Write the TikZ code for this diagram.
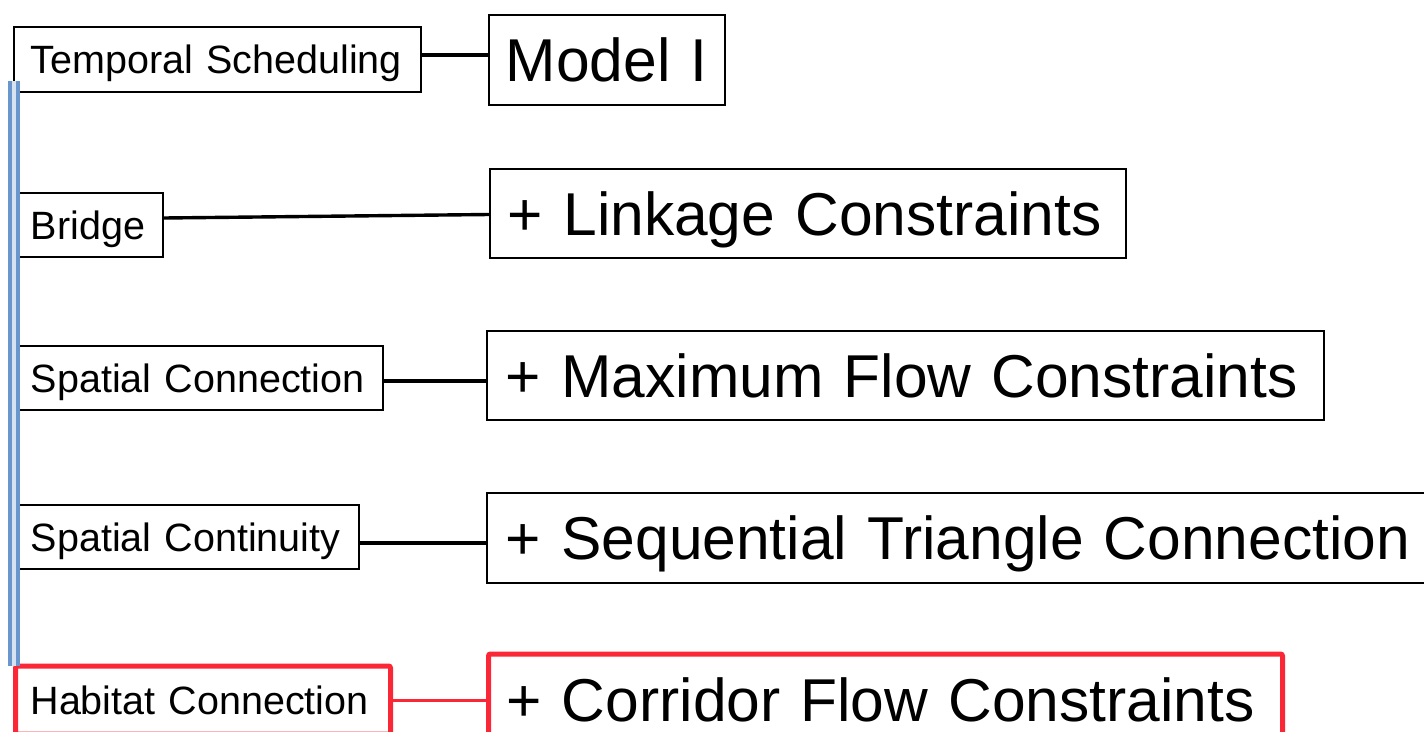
\documentclass[tikz,border=0pt]{standalone}
\usepackage{fontspec}
\setmainfont{Liberation Sans}
\definecolor{boxred}{RGB}{250,40,55}
\definecolor{lineblue}{RGB}{105,150,205}
\definecolor{innerblue}{RGB}{215,226,240}
\tikzset{
  smallbox/.style={draw=black, line width=1.8pt, anchor=west, inner ysep=0pt,
    font=\fontsize{39.5}{44}\selectfont, text height=28.3pt, text depth=0pt, align=left},
  bigbox/.style={draw=black, line width=1.8pt, anchor=west, inner ysep=0pt,
    font=\fontsize{60.5}{68}\selectfont, text height=43.3pt, text depth=0pt, align=left},
  redframe/.style={draw=boxred, line width=5pt, rounded corners=2pt},
  link/.style={draw=black, line width=3.4pt},
  redlink/.style={draw=boxred, line width=3pt}
}
\begin{document}
\begin{tikzpicture}[x=1pt,y=-1pt]
\useasboundingbox (0,0) rectangle (1424,731);
\clip (0,0) rectangle (1424,731);
% left column
\node[smallbox, inner xsep=17pt, text width=373pt, minimum height=65pt] (ts) at (13,59.5) {\mbox{Temporal Scheduling}};
\node[smallbox, inner xsep=13pt, text width=119pt, minimum height=64pt] (br) at (17,225) {\mbox{Bridge}};
\node[smallbox, inner xsep=13pt, text width=339pt, minimum height=64pt] (sc) at (17,378) {\mbox{Spatial Connection}};
\node[smallbox, inner xsep=13pt, text width=315pt, minimum height=64pt] (sq) at (17,537) {\mbox{Spatial Continuity}};
\node[smallbox, redframe, inner xsep=15pt, text width=345pt, minimum height=68pt] (hc) at (13,700) {\mbox{Habitat Connection}};
% right column
\node[bigbox, inner xsep=17pt, text width=202pt, minimum height=90pt] (m1) at (488,60) {\mbox{Model I}};
\node[bigbox, inner xsep=18pt, text width=600pt, minimum height=89pt] (lk) at (489,213.5) {\mbox{+ Linkage Constraints}};
\node[bigbox, inner xsep=19pt, text width=799pt, minimum height=89pt] (mf) at (486,375.5) {\mbox{+ Maximum Flow Constraints}};
\node[bigbox, inner xsep=19pt, text width=922pt, minimum height=90pt] (st) at (486,538) {\mbox{+ Sequential Triangle Connection}};
\node[bigbox, redframe, inner xsep=18pt, text width=758pt, minimum height=92pt] (cf) at (486,700) {\mbox{+ Corridor Flow Constraints}};
% connectors
\draw[link] ([yshift=4.5pt]ts.east) -- ([yshift=5pt]m1.west);
\draw[link] ([yshift=7pt]br.east) -- ([yshift=-1pt]lk.west);
\draw[link] ([yshift=-3pt]sc.east) -- ([yshift=-5.5pt]mf.west);
\draw[link] ([yshift=-6pt]sq.east) -- ([yshift=-5pt]st.west);
\draw[redlink] (hc.east) -- (cf.west);
% vertical bar
\coordinate (vtop) at (14,81);
\coordinate (vbot) at (14,666);
\draw[draw=lineblue, line width=3.5pt, double=innerblue, double distance=4.5pt] (vtop) -- (vbot);
\end{tikzpicture}
\end{document}
